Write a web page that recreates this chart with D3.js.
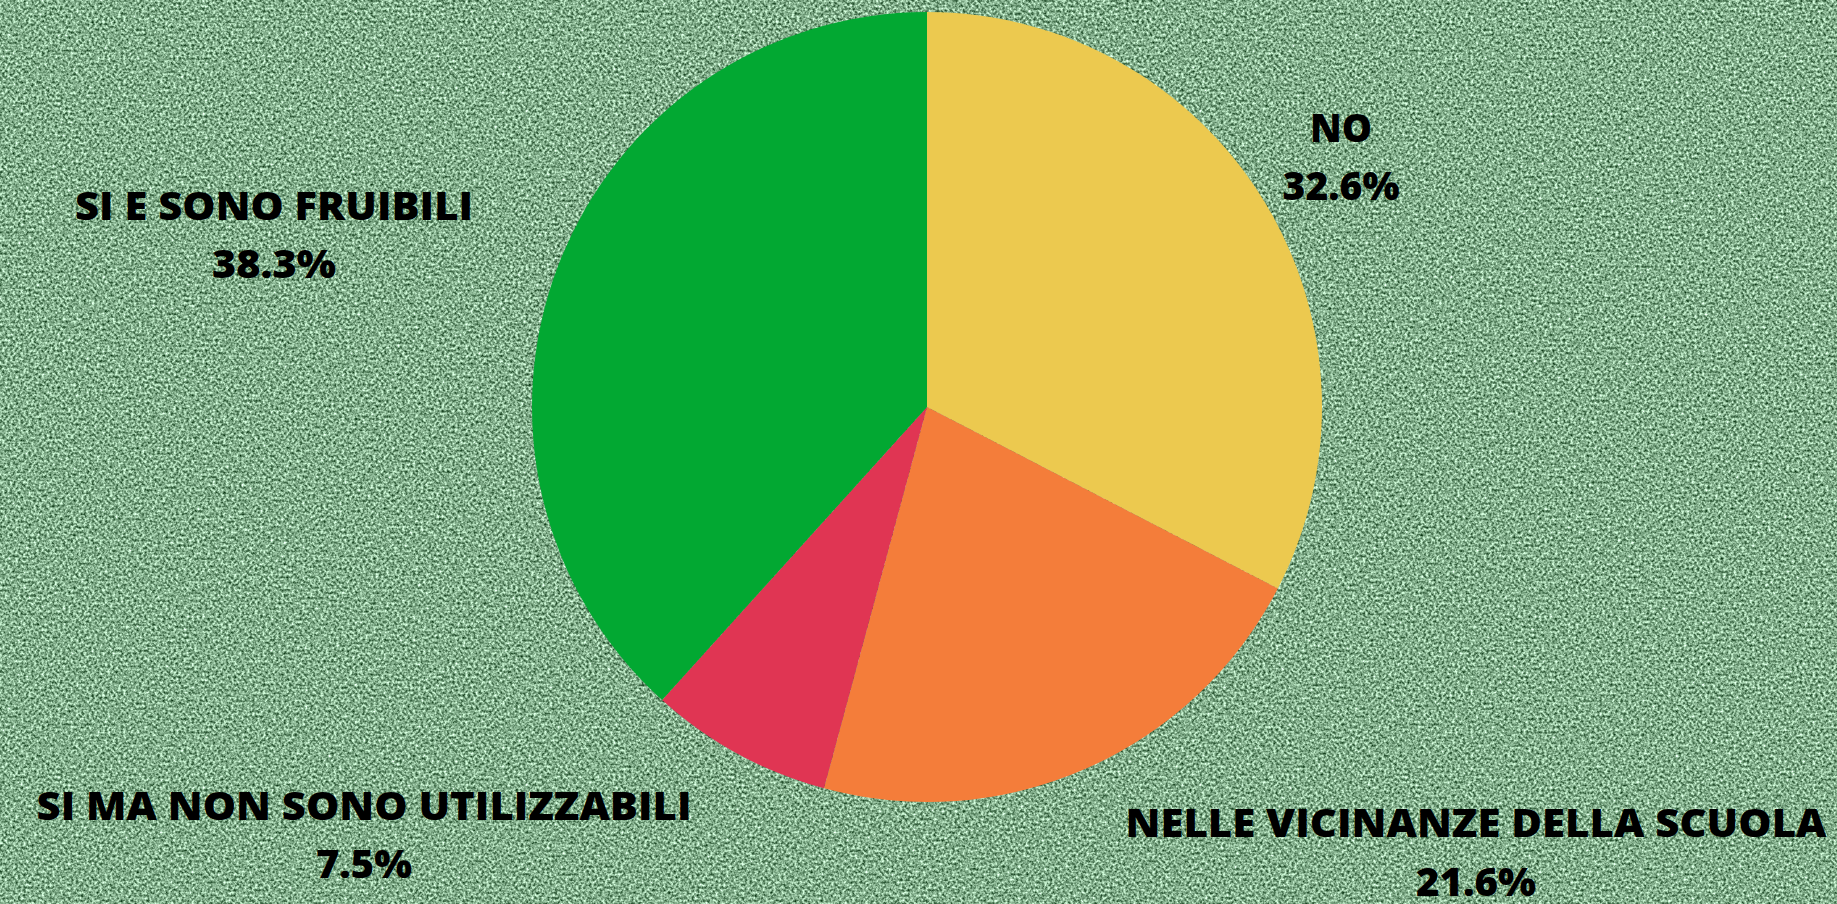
<!DOCTYPE html>
<html>
<head>
<meta charset="utf-8">
<script src="https://cdn.jsdelivr.net/npm/d3@7"></script>
<style>
  html, body { margin: 0; padding: 0; overflow: hidden; }
  svg { display: block; }
</style>
</head>
<body>
<svg id="chart" width="1837" height="904"></svg>
<script>
// Survey answers, clockwise from 12 o'clock
const categories = ["NO", "NELLE VICINANZE DELLA SCUOLA", "SI MA NON SONO UTILIZZABILI", "SI E SONO FRUIBILI"];
const values = [32.6, 21.6, 7.5, 38.3];
const colors = ["#ECC94F", "#F47D3A", "#E03553", "#02A832"];

// Label placement: [center x, name baseline, value baseline, name width, value width]
const labelPos = [
  [1341, 142, 200, 62, 117],
  [1476, 837, 896, 701, 120],
  [364, 820, 878, 655, 96],
  [274, 220, 278, 398, 124]
];

const W = 1837, H = 904;
const cx = 927, cy = 407, R = 395;

const svg = d3.select("#chart");

// grainy green backdrop
const defs = svg.append("defs");
const f = defs.append("filter").attr("id", "grain")
  .attr("x", 0).attr("y", 0).attr("width", W).attr("height", H)
  .attr("filterUnits", "userSpaceOnUse")
  .attr("color-interpolation-filters", "sRGB");
f.append("feTurbulence").attr("type", "fractalNoise")
  .attr("baseFrequency", 0.38).attr("numOctaves", 2).attr("seed", 7).attr("result", "n");
f.append("feColorMatrix").attr("type", "matrix").attr("values",
  "1.25 0 0 0 -0.115  1.25 0 0 0 0.055  1.25 0 0 0 -0.08  0 0 0 0 1");

svg.append("rect").attr("width", W).attr("height", H).attr("fill", "#80ab8a");
svg.append("rect").attr("width", W).attr("height", H).attr("filter", "url(#grain)");

// pie
const pie = d3.pie().sort(null).value(d => d).startAngle(0).endAngle(2 * Math.PI);
const arc = d3.arc().innerRadius(0).outerRadius(R);

svg.append("g").attr("transform", `translate(${cx},${cy})`)
  .selectAll("path")
  .data(pie(values))
  .join("path")
  .attr("d", arc)
  .attr("fill", (d, i) => colors[i]);

// labels
const lg = svg.append("g")
  .attr("font-family", "'Open Sans', sans-serif")
  .attr("font-weight", 800)
  .attr("fill", "#000")
  .attr("text-anchor", "middle");

categories.forEach((name, i) => {
  const [x, y1, y2, w1, w2] = labelPos[i];
  lg.append("text").attr("x", x).attr("y", y1)
    .attr("font-size", 39)
    .attr("textLength", w1).attr("lengthAdjust", "spacingAndGlyphs")
    .text(name);
  lg.append("text").attr("x", x).attr("y", y2)
    .attr("font-size", 39)
    .attr("textLength", w2).attr("lengthAdjust", "spacingAndGlyphs")
    .text(values[i].toFixed(1) + "%");
});
</script>
</body>
</html>
